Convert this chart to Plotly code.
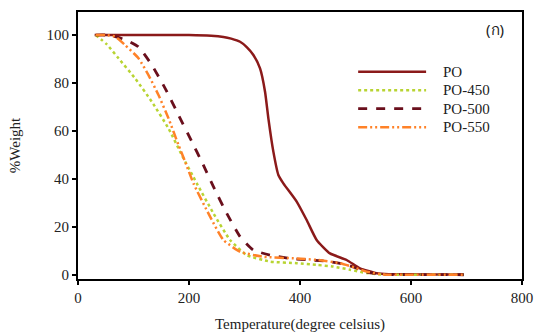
import plotly.graph_objects as go

series_names = ["PO", "PO-450", "PO-500", "PO-550"]

po_x = [30, 100, 200, 240, 262, 276, 292, 304, 316, 328, 337, 343, 352, 361, 370, 394, 412, 430, 454, 484, 508, 538, 560, 600, 650, 695]
po_y = [100, 100, 100, 99.7, 99.2, 98.5, 97.2, 95, 91.7, 86.1, 76.4, 65.3, 51.4, 41.7, 38.2, 30.6, 22.9, 14.6, 9, 6.25, 2.8, 0.7, 0.3, 0.3, 0.2, 0.2]

po450_x = [32, 52, 73, 103, 133, 163, 187, 214, 244, 274, 304, 346, 394, 430, 460, 490, 520, 550, 600, 695]
po450_y = [100, 96.1, 90.3, 81.9, 72.2, 61.1, 50, 38.2, 25.7, 14.6, 8.3, 5.6, 4.9, 4.2, 3.5, 2.2, 0.8, 0.2, 0.1, 0.1]

po500_x = [32, 50, 67, 86, 109, 133, 157, 181, 205, 223, 244, 268, 292, 316, 346, 382, 420, 450, 480, 500, 520, 545, 600, 695]
po500_y = [100, 100, 99.3, 98, 95.1, 87.5, 77.8, 66.7, 55.6, 47.2, 36.8, 25.7, 16, 10.4, 8.3, 6.9, 6.2, 5.7, 4.5, 3, 1.2, 0.3, 0.2, 0.1]

po550_x = [32, 50, 67, 85, 109, 127, 145, 163, 181, 193, 208, 238, 262, 292, 334, 394, 430, 472, 500, 520, 550, 600, 695]
po550_y = [100, 100, 99.3, 95.8, 90.3, 83.3, 75, 65.3, 54.2, 47.2, 38.2, 24.3, 14.6, 9.7, 7.6, 6.9, 6.3, 4.9, 3, 1.4, 0.2, 0.1, 0.1]

x_ticks = [0, 200, 400, 600, 800]
y_ticks = [0, 20, 40, 60, 80, 100]

colors = ["#8B1A1A", "#B8D432", "#6A0F1C", "#FF8228"]
dashes = ["solid", "dot", "dash", "9px,3px,2px,3px,2px,3px"]
widths = [2.5, 2.5, 2.8, 2.5]

FONT = "Liberation Serif"
TXT = dict(family=FONT, size=15, color="#222")

fig = go.Figure()
data = [(po_x, po_y), (po450_x, po450_y), (po500_x, po500_y), (po550_x, po550_y)]
for (xs, ys), name, c, d, w in zip(data, series_names, colors, dashes, widths):
    fig.add_trace(go.Scatter(x=xs, y=ys, mode="lines", name=name,
                             line=dict(color=c, dash=d, width=w, shape="spline", smoothing=0.5),
                             showlegend=False))

# manual legend (paper coordinates)
leg_y = [0.776, 0.707, 0.638, 0.568]
shapes = []
annotations = []
for name, c, d, w, yy in zip(series_names, colors, dashes, widths, leg_y):
    shapes.append(dict(type="line", xref="paper", yref="paper", x0=0.631, x1=0.784, y0=yy, y1=yy,
                       line=dict(color=c, dash=d, width=w)))
    annotations.append(dict(xref="paper", yref="paper", x=0.818, y=yy, text=name, showarrow=False,
                            xanchor="left", yanchor="middle", font=TXT))
annotations.append(dict(xref="paper", yref="paper", x=0.965, y=0.936, text="(ก)", showarrow=False,
                        xanchor="right", yanchor="middle",
                        font=dict(family="Noto Sans", size=15, color="#222")))

fig.update_layout(
    width=535, height=333,
    margin=dict(l=78, r=13, t=12, b=54, autoexpand=False),
    paper_bgcolor="white", plot_bgcolor="white",
    font=TXT,
    shapes=shapes, annotations=annotations,
    showlegend=False,
)
fig.update_xaxes(range=[0, 800], tickvals=x_ticks, ticks="outside", ticklen=4, tickwidth=1.5,
                 tickcolor="black", showline=True, linecolor="black", linewidth=2, mirror=True,
                 showgrid=False, zeroline=False, automargin=False, tickfont=TXT,
                 title=dict(text="Temperature(degree celsius)", standoff=14, font=TXT))
fig.update_yaxes(range=[-1.67, 109.6], tickvals=y_ticks, ticks="outside", ticklen=4, tickwidth=1.5,
                 tickcolor="black", showline=True, linecolor="black", linewidth=2, mirror=True,
                 showgrid=False, zeroline=False, automargin=False, tickfont=TXT,
                 title=dict(text="%Weight", standoff=22, font=TXT))

fig.write_html("out.html", config={"displayModeBar": False},
               post_script="document.body.style.margin='0';document.body.style.overflow='hidden';")
